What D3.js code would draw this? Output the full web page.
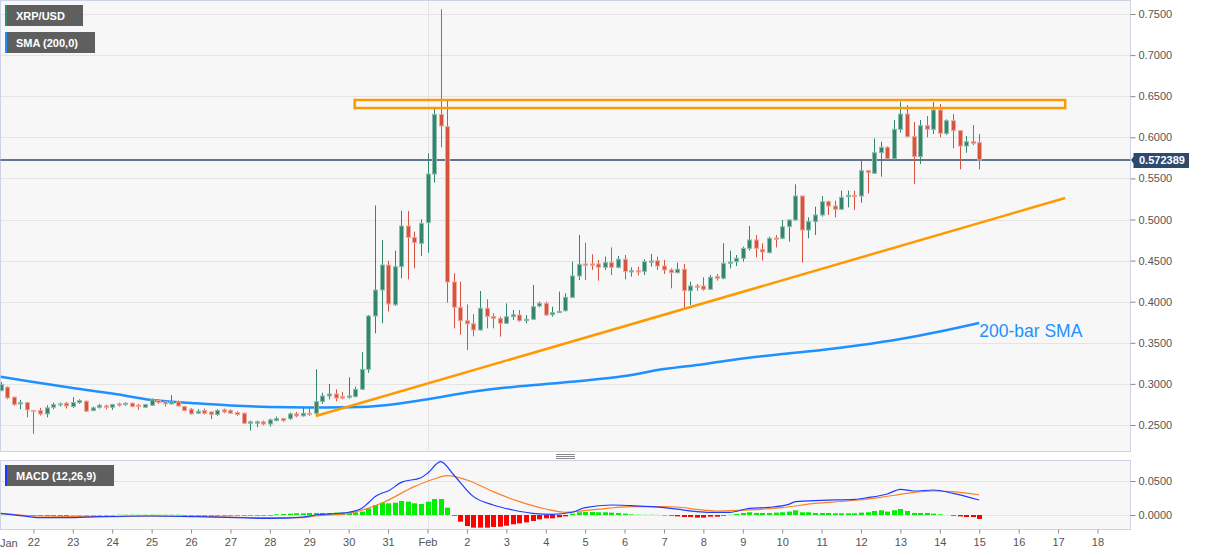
<!DOCTYPE html>
<html><head><meta charset="utf-8">
<script src="https://cdn.jsdelivr.net/npm/d3@7"></script>
<style>
body{margin:0;background:#fff;}
svg{display:block;font-family:Arial,"Liberation Sans",sans-serif;}
</style>
</head><body>
<svg id="c" width="1207" height="555"></svg>
<script>
// ---------- DATA ----------
// 4-hour candles, first candle Jan 21 2021 04:00 UTC (index -5 relative to Jan 22 00:00)
const firstCandleOffset = -5;
const opens = [
0.2919,0.2960,0.2838,0.2757,0.2773,
0.2676,0.2676,0.2635,0.2716,0.2753,0.2765,0.2724,0.2773,0.2789,0.2676,0.2716,0.2732,0.2716,0.2757,0.2749,0.2765,0.2740,0.2716,0.2740,0.2797,0.2781,0.2757,0.2781,0.2724,
0.2692,0.2643,0.2676,0.2659,0.2627,0.2684,0.2676,0.2651,0.2643,0.2521,0.2521,0.2538,0.2513,0.2554,0.2578,0.2578,0.2635,0.2611,0.2643,0.2642,
0.2784,0.2853,0.2877,0.2845,0.2836,0.2845,0.2934,0.3177,0.3826,0.4142,0.4446,0.3964,0.4426,0.4921,0.4783,0.4710,0.4961,0.5553,0.6279,0.6129,
0.4240,0.3932,0.3768,0.3731,0.3656,0.3920,0.3820,0.3794,0.3737,0.3818,0.3838,0.3769,0.3786,0.3948,0.3980,0.3842,0.3867,0.3891,0.4053,0.4313,
0.4459,0.4459,0.4459,0.4418,0.4475,0.4418,0.4516,0.4362,0.4378,0.4366,0.4479,0.4499,0.4434,0.4386,0.4353,0.4394,0.4134,0.4191,0.4191,0.4151,
0.4305,0.4285,0.4467,0.4487,0.4528,0.4649,0.4751,0.4637,0.4597,0.4775,0.4771,0.4913,0.4994,0.5286,0.4872,0.4974,0.5055,0.5217,0.5164,0.5124,
0.5278,0.5294,0.5286,0.5594,0.5562,0.5813,0.5878,0.5740,0.6097,0.6283,0.6008,0.5764,0.6141,0.6097,0.6332,0.6048,0.6202,0.6081,0.5894,0.5947,0.5935];
const highs = [
0.3020,0.2970,0.2846,0.2805,0.2781,
0.2684,0.2708,0.2740,0.2773,0.2773,0.2781,0.2838,0.2813,0.2797,0.2724,0.2757,0.2749,0.2757,0.2773,0.2773,0.2773,0.2757,0.2757,0.2822,0.2813,0.2789,0.2862,0.2797,0.2732,
0.2708,0.2692,0.2700,0.2667,0.2692,0.2700,0.2692,0.2667,0.2651,0.2554,0.2554,0.2554,0.2578,0.2603,0.2586,0.2651,0.2659,0.2708,0.2700,0.3177,
0.2893,0.2999,0.2934,0.2901,0.3080,0.2966,0.3388,0.3838,0.5171,0.4751,0.4499,0.4621,0.5107,0.5103,0.4852,0.5002,0.5805,0.6352,0.7557,0.6462,
0.4345,0.4244,0.3966,0.3849,0.4130,0.4029,0.3859,0.3818,0.3980,0.3899,0.3899,0.3838,0.4203,0.4001,0.4001,0.3940,0.4122,0.4102,0.4487,0.4812,
0.4718,0.4576,0.4507,0.4548,0.4661,0.4556,0.4568,0.4418,0.4426,0.4516,0.4580,0.4548,0.4507,0.4406,0.4475,0.4459,0.4244,0.4216,0.4297,0.4325,
0.4337,0.4710,0.4621,0.4568,0.4670,0.4921,0.4812,0.4710,0.4791,0.4812,0.4994,0.5002,0.5428,0.5286,0.5027,0.5156,0.5286,0.5229,0.5229,0.5351,
0.5351,0.5351,0.5716,0.5602,0.5987,0.5947,0.5890,0.6210,0.6433,0.6393,0.6186,0.6210,0.6259,0.6429,0.6405,0.6218,0.6283,0.6081,0.6016,0.6149,0.6040];
const lows = [
0.2910,0.2813,0.2732,0.2692,0.2594,
0.2392,0.2615,0.2594,0.2692,0.2724,0.2700,0.2708,0.2757,0.2659,0.2667,0.2700,0.2692,0.2684,0.2724,0.2732,0.2716,0.2684,0.2708,0.2732,0.2757,0.2724,0.2749,0.2724,0.2667,
0.2627,0.2635,0.2627,0.2570,0.2611,0.2643,0.2635,0.2611,0.2513,0.2432,0.2473,0.2497,0.2481,0.2546,0.2538,0.2562,0.2594,0.2603,0.2611,0.2601,
0.2756,0.2812,0.2788,0.2812,0.2820,0.2837,0.2926,0.3136,0.3615,0.3737,0.3879,0.3948,0.4284,0.4272,0.4406,0.4556,0.4596,0.5448,0.5878,0.3988,
0.3676,0.3599,0.3412,0.3579,0.3648,0.3676,0.3676,0.3575,0.3729,0.3778,0.3757,0.3737,0.3778,0.3932,0.3826,0.3818,0.3867,0.3879,0.4045,0.4264,
0.4264,0.4386,0.4256,0.4386,0.4325,0.4406,0.4272,0.4305,0.4321,0.4325,0.4426,0.4386,0.4337,0.4163,0.4345,0.3919,0.3960,0.4134,0.4134,0.4143,
0.4256,0.4272,0.4406,0.4434,0.4487,0.4621,0.4540,0.4499,0.4588,0.4661,0.4759,0.4730,0.4986,0.4475,0.4771,0.4812,0.5035,0.5055,0.5027,0.5116,
0.5148,0.5116,0.5205,0.5318,0.5554,0.5521,0.5732,0.5732,0.6056,0.6000,0.5432,0.5675,0.6000,0.6040,0.6000,0.6028,0.5866,0.5610,0.5813,0.5906,0.5610];
const closes = [
0.2992,0.2830,0.2749,0.2773,0.2684,
0.2667,0.2635,0.2708,0.2749,0.2757,0.2732,0.2773,0.2797,0.2667,0.2708,0.2740,0.2716,0.2749,0.2740,0.2765,0.2724,0.2724,0.2749,0.2805,0.2773,0.2757,0.2781,0.2732,0.2676,
0.2635,0.2667,0.2643,0.2627,0.2676,0.2659,0.2643,0.2627,0.2521,0.2538,0.2538,0.2513,0.2562,0.2578,0.2554,0.2635,0.2611,0.2643,0.2627,0.2784,
0.2853,0.2877,0.2828,0.2828,0.2853,0.2934,0.3177,0.3826,0.4142,0.4446,0.3972,0.4426,0.4921,0.4783,0.4718,0.4953,0.5553,0.6279,0.6137,0.4240,
0.3932,0.3768,0.3731,0.3656,0.3920,0.3822,0.3798,0.3737,0.3818,0.3842,0.3769,0.3786,0.3940,0.3980,0.3838,0.3867,0.3883,0.4053,0.4313,0.4455,
0.4443,0.4443,0.4418,0.4475,0.4418,0.4516,0.4366,0.4378,0.4362,0.4487,0.4495,0.4434,0.4386,0.4353,0.4394,0.4134,0.4191,0.4175,0.4151,0.4297,
0.4285,0.4467,0.4483,0.4528,0.4649,0.4751,0.4649,0.4605,0.4771,0.4759,0.4913,0.4994,0.5286,0.4872,0.4974,0.5055,0.5217,0.5164,0.5124,0.5270,
0.5294,0.5278,0.5594,0.5570,0.5813,0.5878,0.5740,0.6097,0.6283,0.6008,0.5764,0.6141,0.6097,0.6332,0.6048,0.6202,0.6081,0.5894,0.5947,0.5927,0.572389];

// 200-bar SMA, sampled (candle index relative to Jan 22 00:00, value)
const smaIdx  = [-5,0,6,12,18,24,30,36,42,48,54,60,66,72,78,84,90,96,102,108,114,120,126,132,138,144];
const smaVals = [0.3088,0.3023,0.2950,0.2883,0.2804,0.2768,0.2737,0.2719,0.2713,0.2715,0.2743,0.2813,0.2895,0.2955,0.2999,0.3041,0.3096,0.3180,0.3240,0.3308,0.3364,0.3412,0.3473,0.3546,0.3637,0.3741];

// MACD (12,26,9)
const macdIdx  = [-5,-2,1,5,10,18,25,31,36,41,43,48,50,51,52,53,54,56,59,60,62,64,67,70,73,76,79,82,84,88,91,96,98,101,103,106,109,112,115,116,120,125,127,130,132,134,137,140,144];
const macdVals = [0.0025,-0.001,-0.004,-0.004,-0.0025,-0.0015,-0.0025,-0.004,-0.005,-0.003,0.0,0.004,0.0098,0.018,0.027,0.0319,0.0353,0.048,0.0549,0.0613,0.0784,0.0588,0.027,0.0147,0.0074,0.0025,0.001,0.004,0.0108,0.0147,0.0137,0.0108,0.0085,0.005,0.004,0.004,0.0098,0.0113,0.0157,0.0196,0.0216,0.023,0.0255,0.0309,0.0377,0.0353,0.0368,0.0319,0.0221];
const signalIdx  = [-5,1,10,18,25,36,41,43,48,53,58,61,63,66,70,74,78,81,85,91,96,98,101,104,109,114,119,124,129,133,137,140,144];
const signalVals = [0.0025,-0.0015,-0.0025,-0.0015,-0.002,-0.004,-0.004,-0.0015,0.0025,0.0172,0.0417,0.0529,0.0578,0.0515,0.0343,0.0196,0.0088,0.004,0.0074,0.0123,0.0123,0.0118,0.0083,0.0059,0.0074,0.0108,0.0172,0.0206,0.026,0.0319,0.0353,0.0343,0.0294];
const histVals = [
0.0005,0.0003,0.0,
-0.001,-0.001,-0.001,-0.001,-0.001,-0.001,-0.001,-0.001,
-0.0005,-0.0005,-0.0005,-0.0005,-0.0005,-0.0005,-0.0005,
0.0004,0.0004,0.0004,0.0004,0.0004,0.0004,0.0004,0.0004,0.0004,0.0004,
-0.0007,-0.0007,-0.0007,-0.0007,-0.0007,-0.0007,-0.0007,-0.0007,-0.0007,-0.0007,-0.0007,-0.0007,-0.0007,-0.0007,
0.001,0.0015,0.002,0.0025,0.0025,0.003,0.003,
0.003,0.003,0.0035,0.0035,0.004,0.004,0.005,
0.0098,0.0147,0.0181,0.0172,0.0181,0.0206,0.0196,0.0172,0.0162,0.0196,0.0235,0.0235,0.0108,
-0.001,-0.0098,-0.0162,-0.0186,-0.0186,-0.0186,-0.0176,-0.0172,-0.0157,-0.0137,-0.0123,-0.0108,-0.0088,-0.0064,-0.0049,-0.0049,-0.0034,-0.002,
0.002,0.004,0.0045,0.0045,0.004,0.004,0.0035,0.003,0.002,0.001,0.0005,0.0003,0.0003,0.0002,-0.0005,-0.001,-0.002,
-0.003,-0.003,-0.0039,-0.0039,-0.0025,-0.0025,-0.001,0.0003,0.0015,0.003,0.004,0.003,0.003,0.003,0.0035,0.004,0.005,0.0069,0.004,0.004,0.003,0.003,0.003,
0.0025,0.0025,0.0025,0.0025,0.0035,0.004,0.0059,0.0069,0.005,0.0069,0.0088,0.0059,0.003,0.003,0.003,0.002,0.001,0.0,-0.001,-0.002,-0.003,-0.003,-0.0059];

const priceTicks = [0.25,0.30,0.35,0.40,0.45,0.50,0.55,0.60,0.65,0.70,0.75];
const macdTicks = [0, 0.05];
const lastPrice = 0.572389;
// annotations (time, price)
const trendLine = [["2021-01-29T04:00:00Z",0.2609],["2021-02-17T04:20:00Z",0.5262]];
const resistZone = {from:"2021-01-30T03:40:00Z", to:"2021-02-17T04:20:00Z", low:0.6356, high:0.6454};

// ---------- CHART ----------
const DAY = 86400000, H4 = 4*3600000;
const jan22 = Date.UTC(2021,0,22);
const tOf = i => new Date(jan22 + i*H4);
const PW = 1130.5;
const dayW = 39.41, x22 = 33.4;
const x = d3.scaleUtc()
  .domain([new Date(jan22 - x22/dayW*DAY), new Date(jan22 + (PW-x22)/dayW*DAY)])
  .range([0, PW]);
const y = d3.scaleLinear().domain([0.25,0.75]).range([425,14]);
const ym = d3.scaleLinear().domain([0,0.05]).range([515,481]);

const svg = d3.select("#c");
const defs = svg.append("defs");
defs.append("clipPath").attr("id","cm").append("rect").attr("x",0.5).attr("y",0.5).attr("width",PW-0.5).attr("height",451);
defs.append("clipPath").attr("id","cd").append("rect").attr("x",0.5).attr("y",460.5).attr("width",PW-0.5).attr("height",69);

const border = "#cdd3e6", grid = "#e4e4e4";
svg.append("rect").attr("x",0.5).attr("y",0.5).attr("width",PW-0.5).attr("height",451).attr("fill","#f7f7f7").attr("stroke",border);
svg.append("rect").attr("x",0.5).attr("y",460.5).attr("width",PW-0.5).attr("height",69).attr("fill","#f7f7f7").attr("stroke",border);

// gridlines main
const gm = svg.append("g").attr("clip-path","url(#cm)");
gm.selectAll("line.h").data(priceTicks).join("line")
  .attr("x1",1).attr("x2",PW).attr("y1",d=>Math.round(y(d))+0.5).attr("y2",d=>Math.round(y(d))+0.5)
  .attr("stroke",grid);
const monthStarts = [new Date(Date.UTC(2021,1,1))];
gm.selectAll("line.v").data(monthStarts).join("line")
  .attr("x1",d=>Math.round(x(d))+0.5).attr("x2",d=>Math.round(x(d))+0.5).attr("y1",1).attr("y2",451)
  .attr("stroke",grid);

// SMA
const smaData = smaIdx.map((i,k)=>[tOf(i), smaVals[k]]);
gm.append("path").datum(smaData)
  .attr("d", d3.line().x(d=>x(d[0])).y(d=>y(d[1])).curve(d3.curveMonotoneX))
  .attr("fill","none").attr("stroke","#1e90ff").attr("stroke-width",2.5);

// price line
gm.append("line").attr("x1",0).attr("x2",PW).attr("y1",y(lastPrice)).attr("y2",y(lastPrice))
  .attr("stroke","#2c4a6e").attr("stroke-width",1.3);

// candles
const candles = opens.map((o,k)=>({t:tOf(k+firstCandleOffset), o, h:highs[k], l:lows[k], c:closes[k]}));
const up = "#33866e", dn = "#d6533e";
const cg = gm.append("g");
candles.forEach(d=>{
  const cx = Math.round(x(d.t))+0.5;
  const col = d.c >= d.o ? up : dn;
  const lite = d.c >= d.o ? "#8fbcae" : "#eba89c";
  cg.append("line").attr("x1",cx).attr("x2",cx).attr("y1",y(d.h)).attr("y2",y(d.l)).attr("stroke",col).attr("stroke-width",1);
  const top = y(Math.max(d.o,d.c)), bot = y(Math.min(d.o,d.c));
  cg.append("rect").attr("x",cx-2).attr("width",4).attr("y",top).attr("height",Math.max(1,bot-top))
    .attr("fill",col).attr("stroke",lite).attr("stroke-width",1);
});

// trendline & zone
gm.append("line")
  .attr("x1",x(new Date(trendLine[0][0]))).attr("y1",y(trendLine[0][1]))
  .attr("x2",x(new Date(trendLine[1][0]))).attr("y2",y(trendLine[1][1]))
  .attr("stroke","#ff9900").attr("stroke-width",2.5);
gm.append("rect")
  .attr("x",x(new Date(resistZone.from))).attr("y",y(resistZone.high))
  .attr("width",x(new Date(resistZone.to))-x(new Date(resistZone.from)))
  .attr("height",y(resistZone.low)-y(resistZone.high))
  .attr("fill","none").attr("stroke","#ff9900").attr("stroke-width",2.5);

svg.append("text").attr("x",x(tOf(144))).attr("y",y(0.3575)).attr("fill","#1e90ff")
  .attr("font-size",17.5).text("200-bar SMA");

// right axis main
const axR = svg.append("g").attr("transform",`translate(${PW},0)`)
  .call(d3.axisRight(y).tickValues(priceTicks).tickFormat(d3.format(".4f")).tickSize(5).tickPadding(3));
axR.select(".domain").remove();
axR.selectAll("line").attr("stroke","#8a8a8a");
axR.selectAll("text").attr("fill","#555").attr("font-size",11).attr("font-family","Arial,'Liberation Sans',sans-serif");

// price label
const py = y(lastPrice);
svg.append("path").attr("d",`M${PW+0.5},${py} L${PW+3},${py-3.5} L${PW+3},${py-7} L1189,${py-7} L1189,${py+8} L${PW+3},${py+8} L${PW+3},${py+3.5} Z`)
  .attr("fill","#2c4a6e");
svg.append("text").attr("x",1139).attr("y",py+4.5).attr("fill","#fff").attr("font-weight","bold").attr("font-size",11).text(d3.format(".6f")(lastPrice));

// MACD panel
const gd = svg.append("g").attr("clip-path","url(#cd)");
gd.selectAll("line.h").data(macdTicks).join("line")
  .attr("x1",1).attr("x2",PW).attr("y1",d=>Math.round(ym(d))+0.5).attr("y2",d=>Math.round(ym(d))+0.5).attr("stroke",grid);
gd.selectAll("line.v").data(monthStarts).join("line")
  .attr("x1",d=>Math.round(x(d))+0.5).attr("x2",d=>Math.round(x(d))+0.5).attr("y1",461).attr("y2",529).attr("stroke",grid);
gd.selectAll("rect.hb").data(histVals).join("rect")
  .attr("x",(d,k)=>Math.round(x(tOf(k+firstCandleOffset)))-2)
  .attr("width",5)
  .attr("y",d=>Math.min(ym(d),ym(0)))
  .attr("height",d=>Math.abs(ym(d)-ym(0)))
  .attr("fill",d=>d>=0?"#00ee00":"#ff0000");
const macdData = macdIdx.map((i,k)=>[tOf(i), macdVals[k]]);
const sigData = signalIdx.map((i,k)=>[tOf(i), signalVals[k]]);
const lm = d3.line().x(d=>x(d[0])).y(d=>ym(d[1])).curve(d3.curveMonotoneX);
gd.append("path").datum(sigData).attr("d",lm).attr("fill","none").attr("stroke","#ff7f27").attr("stroke-width",1.2);
gd.append("path").datum(macdData).attr("d",lm).attr("fill","none").attr("stroke","#1f3cff").attr("stroke-width",1.2);

const axM = svg.append("g").attr("transform",`translate(${PW},0)`)
  .call(d3.axisRight(ym).tickValues(macdTicks).tickFormat(d3.format(".4f")).tickSize(5).tickPadding(3));
axM.select(".domain").remove();
axM.selectAll("line").attr("stroke","#8a8a8a");
axM.selectAll("text").attr("fill","#555").attr("font-size",11).attr("font-family","Arial,'Liberation Sans',sans-serif");

// x axis
const dayTicks = d3.utcDay.range(new Date(Date.UTC(2021,0,22)), new Date(Date.UTC(2021,1,19)));
const axX = svg.append("g").attr("transform","translate(0,529.5)")
  .call(d3.axisBottom(x).tickValues(dayTicks)
    .tickFormat(d=>d.getUTCDate()===1 ? "Feb" : String(d.getUTCDate())).tickSize(4).tickPadding(5));
axX.select(".domain").remove();
axX.selectAll("line").attr("stroke","#8a8a8a");
axX.selectAll("text").attr("fill","#555").attr("font-size",11).attr("font-family","Arial,'Liberation Sans',sans-serif");
svg.append("text").attr("x",0).attr("y",546.5).attr("fill","#555").attr("font-size",11).text("Jan");

// separator handle
[454.5,456.5,458.5].forEach(v=>svg.append("line").attr("x1",556).attr("x2",575).attr("y1",v).attr("y2",v).attr("stroke","#888"));

// legend boxes
function tag(x0,y0,w,stripe,label){
  svg.append("rect").attr("x",x0).attr("y",y0).attr("width",w).attr("height",21).attr("fill","#5f5f5f");
  svg.append("rect").attr("x",x0).attr("y",y0).attr("width",2).attr("height",21).attr("fill",stripe);
  svg.append("text").attr("x",x0+11).attr("y",y0+14.5).attr("fill","#fff").attr("font-weight","bold").attr("font-size",11).text(label);
}
tag(5,5,78,"#2e8b6e","XRP/USD");
tag(5,32,90,"#1e90ff","SMA (200,0)");
tag(5,465,109,"#1a3cff","MACD (12,26,9)");
</script>
</body></html>
